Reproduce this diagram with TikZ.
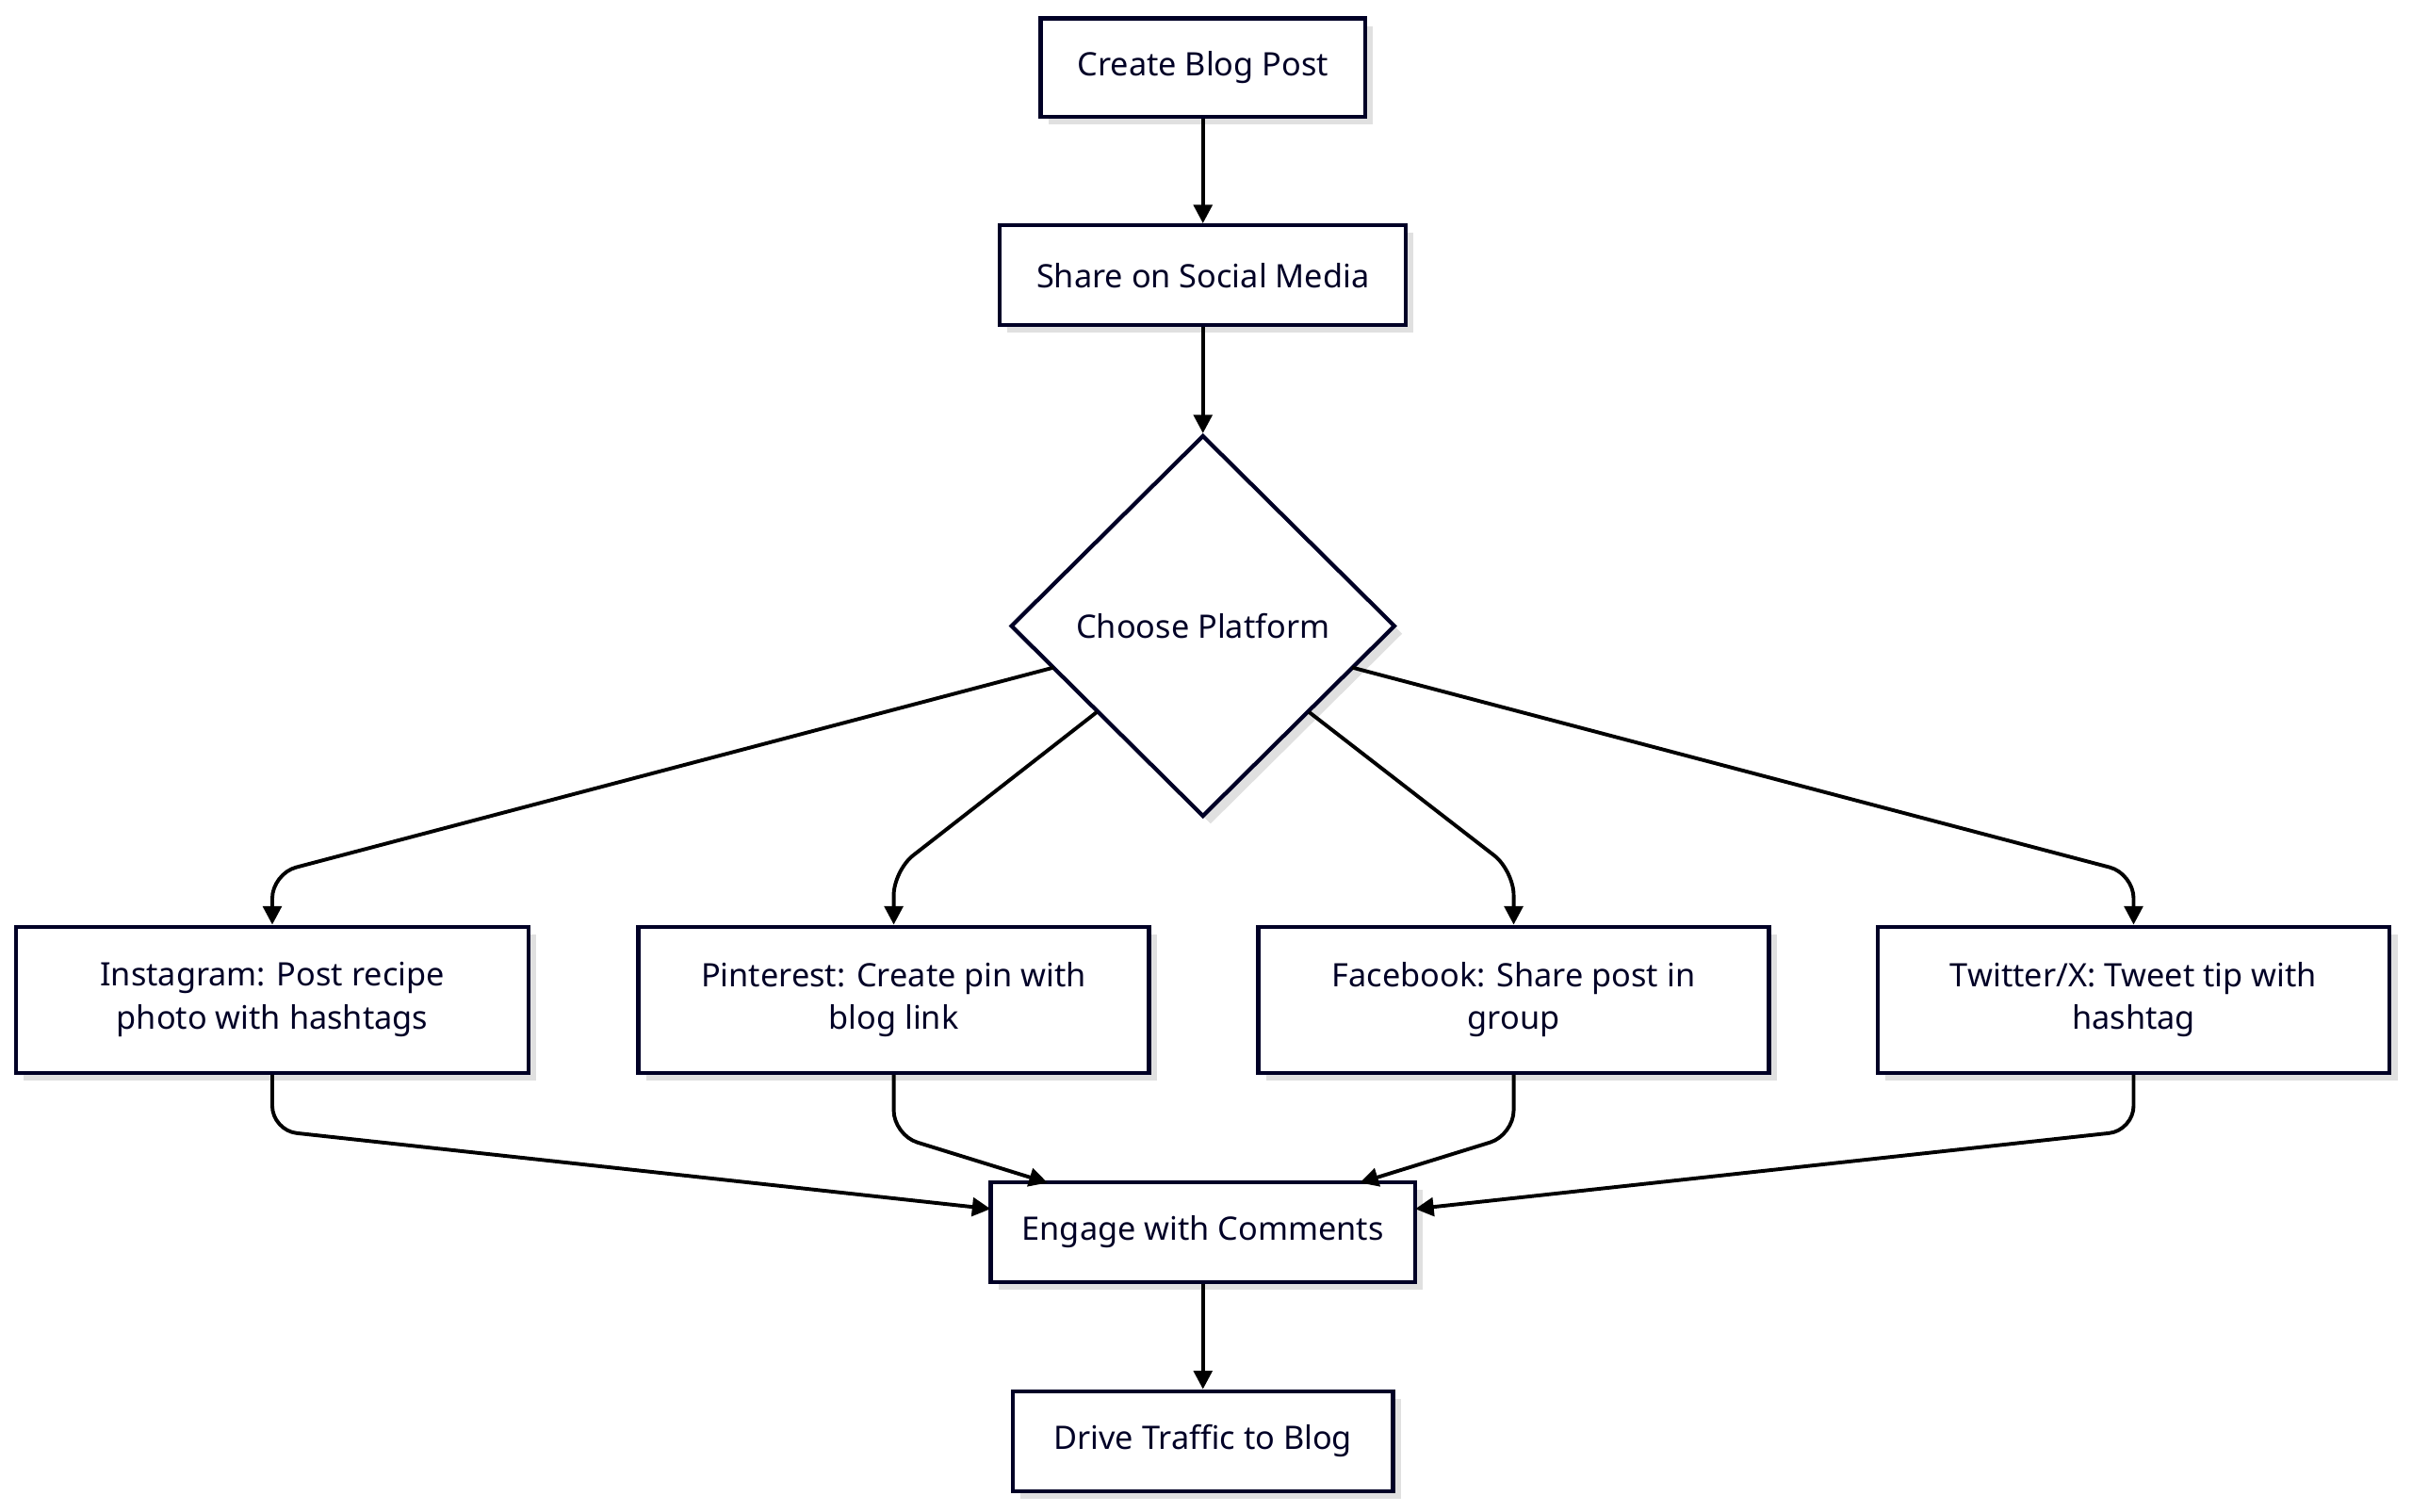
\documentclass[tikz,border=0pt]{standalone}
\usepackage{fontspec}
\setmainfont{Noto Sans}
\usetikzlibrary{shapes.geometric,arrows.meta,shadows}
\begin{document}
\begin{tikzpicture}[x=0.5pt,y=-0.5pt,
 box/.style={draw=black!85!blue,line width=1.3pt,fill=white,align=center,font=\fontsize{10.5}{14}\selectfont,text=black!85!blue,
   drop shadow={shadow xshift=2.5pt,shadow yshift=-2.5pt,fill=black!12,opacity=1}},
 e/.style={draw=black,line width=1.2pt,-{Triangle[length=6pt,width=6pt]},rounded corners=8pt}]
\useasboundingbox (0,0) rectangle (1568,983);
\fill[white] (0,0) rectangle (1568,983);
\node[box,minimum width=105.5pt,minimum height=32pt] (a) at (782,44) {Create Blog Post};
\node[box,minimum width=132pt,minimum height=32.5pt] (b) at (782,179) {Share on Social Media};
\node[box,diamond,minimum width=125pt,minimum height=124pt,inner sep=0pt] (c) at (782,407) {Choose Platform};
\node[box,minimum width=166.5pt,minimum height=47.5pt] (i) at (177,650) {Instagram: Post recipe\\photo with hashtags};
\node[box,minimum width=166pt,minimum height=47.5pt] (p) at (581,650) {Pinterest: Create pin with\\blog link};
\node[box,minimum width=166pt,minimum height=47.5pt] (f) at (984,650) {Facebook: Share post in\\group};
\node[box,minimum width=166.5pt,minimum height=47.5pt] (t) at (1387,650) {Twitter/X: Tweet tip with\\hashtag};
\node[box,minimum width=138pt,minimum height=32.5pt] (g) at (782,801) {Engage with Comments};
\node[box,minimum width=123.5pt,minimum height=32.5pt] (d) at (782,937) {Drive Traffic to Blog};
\coordinate (gl) at (644,786);
\coordinate (gr) at (920,786);
\coordinate (gpl) at (681,769);
\coordinate (gpr) at (884,769);
\draw[e] (a) -- (b);
\draw[e] (b) -- (c);
\draw[e] (685,434) -- (177,568) -- (i.north);
\draw[e] (713,463) -- (581,566) -- (p.north);
\draw[e] (851,463) -- (984,566) -- (f.north);
\draw[e] (879,434) -- (1387,568) -- (t.north);
\draw[e] (i.south) -- (177,735) -- (gl);
\draw[e] (p.south) -- (581,738) -- (gpl);
\draw[e] (f.south) -- (984,738) -- (gpr);
\draw[e] (t.south) -- (1387,735) -- (gr);
\draw[e] (g) -- (d);
\end{tikzpicture}
\end{document}
